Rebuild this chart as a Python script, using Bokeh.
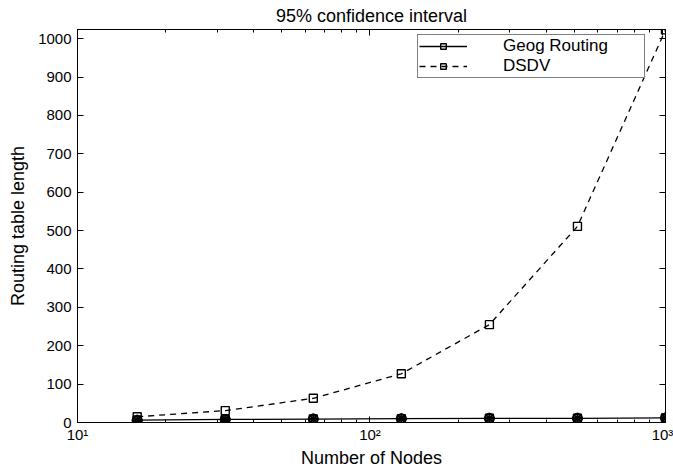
from bokeh.plotting import figure
from bokeh.models import (Range1d, FixedTicker, LinearAxis, LogAxis, Legend,
                          LegendItem, Whisker, ColumnDataSource)
from bokeh.embed import file_html
from bokeh.resources import INLINE

# ---- data ----
nodes = [16, 32, 64, 128, 256, 512, 1024]
dsdv = [15, 31, 63, 127, 255, 511, 1023]
geog = [6, 8, 9, 10, 11, 11, 12]
geog_ci = [3, 2.5, 2, 2, 2, 2, 2]
x_ticks = [10, 100, 1000]
x_tick_labels = ["10\u00b9", "10\u00b2", "10\u00b3"]
x_minor = [k * d for d in (10, 100) for k in range(2, 10)]
y_ticks = list(range(0, 1001, 100))

FONT = "Liberation Sans"

p = figure(width=673, height=470, x_axis_type="log",
           x_range=Range1d(10, 1024), y_range=Range1d(0, 1024),
           output_backend="svg", toolbar_location=None,
           min_border_left=77, min_border_right=8,
           min_border_top=29, min_border_bottom=46)

p.background_fill_color = "white"
p.border_fill_color = "white"
p.outline_line_color = "black"
p.outline_line_width = 1
p.xgrid.visible = False
p.ygrid.visible = False

p.title.text = "95% confidence interval"
p.title.align = "center"
p.title.text_font = FONT
p.title.text_font_size = "18px"
p.title.text_font_style = "normal"
p.title.text_color = "black"
p.title.standoff = 7

def style_axis(ax, labels=True):
    ax.axis_line_color = "black"
    ax.major_tick_line_color = "black"
    ax.minor_tick_line_color = "black"
    ax.major_tick_in = 6
    ax.major_tick_out = 0
    ax.minor_tick_in = 3
    ax.minor_tick_out = 0
    ax.major_label_text_font = FONT
    if labels:
        ax.major_label_text_color = "black"
        ax.major_label_text_font_size = "15px"
        ax.major_label_standoff = 3
    else:
        ax.major_label_text_color = None
        ax.major_label_text_font_size = "1px"
        ax.major_label_standoff = 0

xt = FixedTicker(ticks=x_ticks, minor_ticks=x_minor)
yt = FixedTicker(ticks=y_ticks)

xa = p.xaxis[0]
xa.ticker = xt
xa.major_label_overrides = {float(t): s for t, s in zip(x_ticks, x_tick_labels)}
style_axis(xa)
xa.axis_label = "Number of Nodes"
xa.axis_label_text_font = FONT
xa.axis_label_text_font_size = "18px"
xa.axis_label_text_font_style = "normal"
xa.axis_label_text_color = "black"
xa.axis_label_standoff = 2

ya = p.yaxis[0]
ya.ticker = yt
style_axis(ya)
ya.major_label_standoff = 6
ya.minor_tick_line_color = None
ya.axis_label = "Routing table length"
ya.axis_label_text_font = FONT
ya.axis_label_text_font_size = "18px"
ya.axis_label_text_font_style = "normal"
ya.axis_label_text_color = "black"
ya.axis_label_standoff = 7

top = LogAxis(ticker=xt)
style_axis(top, labels=False)
p.add_layout(top, "above")

right = LinearAxis(ticker=yt)
style_axis(right, labels=False)
right.minor_tick_line_color = None
p.add_layout(right, "right")

# ---- series ----
src = ColumnDataSource(dict(
    x=nodes, dsdv=dsdv, geog=geog,
    lo=[g - c for g, c in zip(geog, geog_ci)],
    hi=[g + c for g, c in zip(geog, geog_ci)],
))

dsdv_line = p.line("x", "dsdv", source=src, line_color="black",
                   line_width=1.3, line_dash="6 5")
dsdv_sq = p.scatter("x", "dsdv", source=src, marker="square", size=8,
                    fill_color=None, line_color="black", line_width=1.4)

geog_line = p.line("x", "geog", source=src, line_color="black", line_width=1.3)
p.add_layout(Whisker(source=src, base="x", lower="lo", upper="hi",
                     line_color="black", line_width=2))
p.scatter("x", "geog", source=src, marker="asterisk", size=11,
          line_color="black", line_width=2)
p.scatter("x", "geog", source=src, marker="circle", size=9,
          fill_color=None, line_color="black", line_width=2)
geog_sq = p.scatter("x", "geog", source=src, marker="square", size=8,
                    fill_color=None, line_color="black", line_width=1.4)

legend = Legend(items=[
    LegendItem(label="Geog Routing", renderers=[geog_line, geog_sq]),
    LegendItem(label="DSDV", renderers=[dsdv_line, dsdv_sq]),
], location=(340, 344))
legend.border_line_color = "black"
legend.border_line_width = 1.3
legend.background_fill_color = "white"
legend.background_fill_alpha = 1
legend.label_text_font = FONT
legend.label_text_font_size = "17px"
legend.label_text_color = "black"
legend.glyph_width = 48
legend.glyph_height = 14
legend.label_height = 14
legend.label_width = 140
legend.label_standoff = 36
legend.padding = 1
legend.spacing = 0
legend.margin = 0
p.add_layout(legend)

open("out.html", "w").write(file_html(p, INLINE))
